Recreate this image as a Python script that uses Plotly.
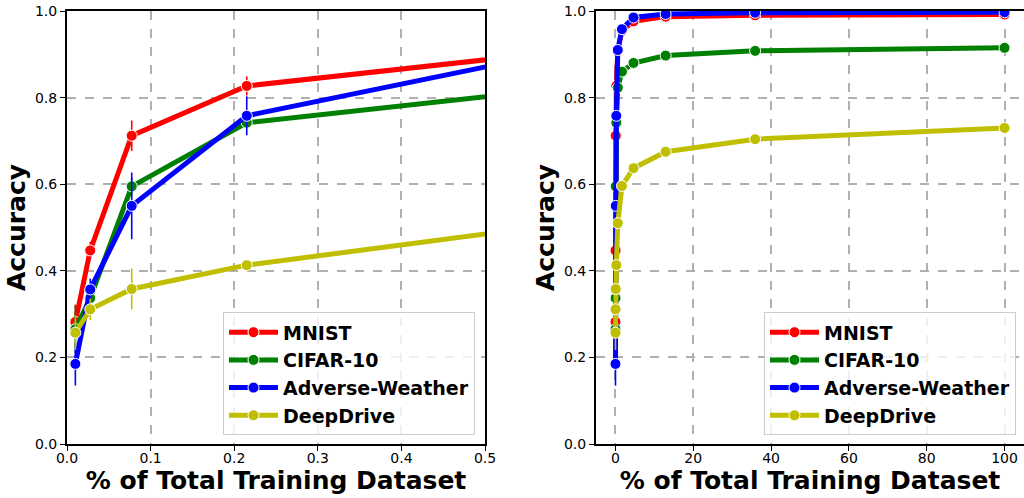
import plotly.graph_objects as go

# ---- data ----
x_pct = [0.01, 0.0278, 0.0774, 0.215, 0.599, 1.67, 4.64, 12.9, 35.9, 100]

mnist = [0.282, 0.447, 0.712, 0.827, 0.908, 0.955, 0.976, 0.987, 0.990, 0.992]
mnist_err = [0.04, 0.02, 0.035, 0.022, 0.008, 0.004, 0.003, 0.002, 0.002, 0.001]

cifar = [0.265, 0.337, 0.595, 0.742, 0.823, 0.860, 0.880, 0.897, 0.908, 0.915]
cifar_err = [0.055, 0.02, 0.02, 0.012, 0.008, 0.005, 0.003, 0.002, 0.002, 0.001]

adverse = [0.185, 0.357, 0.550, 0.758, 0.910, 0.958, 0.985, 0.993, 0.996, 0.997]
adverse_err = [0.05, 0.025, 0.077, 0.045, 0.01, 0.005, 0.003, 0.002, 0.001, 0.001]

deepdrive = [0.257, 0.311, 0.358, 0.413, 0.510, 0.596, 0.637, 0.675, 0.704, 0.730]
deepdrive_err = [0.04, 0.025, 0.047, 0.012, 0.008, 0.005, 0.004, 0.003, 0.002, 0.002]

series_names = ["MNIST", "CIFAR-10", "Adverse-Weather", "DeepDrive"]
series_vals = [mnist, cifar, adverse, deepdrive]
series_errs = [mnist_err, cifar_err, adverse_err, deepdrive_err]
series_colors = ["#ff0000", "#008000", "#0000ff", "#bfbf00"]

left_xticks = [0.0, 0.1, 0.2, 0.3, 0.4, 0.5]
right_xticks = [0, 20, 40, 60, 80, 100]
yticks = [0.0, 0.2, 0.4, 0.6, 0.8, 1.0]

x_title = "% of Total Training Dataset"
y_title = "Accuracy"

FONT = "DejaVu Sans"

fig = go.Figure()

for panel, (xa, ya, leg) in enumerate([("x", "y", "legend"), ("x2", "y2", "legend2")]):
    for name, vals, errs, col in zip(series_names, series_vals, series_errs, series_colors):
        fig.add_trace(go.Scatter(
            x=x_pct, y=vals, name=name, mode="lines+markers",
            xaxis=xa, yaxis=ya, legend=leg,
            line=dict(color=col, width=5),
            marker=dict(color=col, size=11, line=dict(color="white", width=1)),
            error_y=dict(type="data", array=errs, visible=True, color=col,
                         thickness=1.6, width=0),
            cliponaxis=True,
        ))

axis_common = dict(
    showline=True, linecolor="black", linewidth=2,
    ticks="outside", ticklen=5, tickwidth=1.2, tickcolor="black",
    showgrid=True, gridcolor="#b0b0b0", griddash="dash", gridwidth=1.6,
    zeroline=False,
    tickfont=dict(family=FONT, size=14, color="black"),
    title_font=dict(family=FONT, size=25, color="black"),
)

L = 67
plot_w = 1024 - L
d1 = [0, (485 - L) / plot_w]
d2 = [(596 - L) / plot_w, 1.0]

legend_common = dict(
    y=0.02, xanchor="right", yanchor="bottom",
    bgcolor="rgba(255,255,255,0.8)", bordercolor="#cccccc", borderwidth=1,
    font=dict(family=FONT, size=19, color="black", weight="bold"),
    itemwidth=49, tracegroupgap=0,
)

fig.update_layout(
    width=1024, height=498,
    margin=dict(l=L, r=0, t=11, b=54),
    paper_bgcolor="white", plot_bgcolor="white",
    font=dict(family=FONT, color="black"),
    xaxis=dict(domain=d1, range=[0, 0.5], tickvals=left_xticks, tickformat=".1f",
               mirror=True, ticklabelstandoff=-5,
               title=dict(text=f"<b>{x_title}</b>", standoff=0),
               automargin=False, **axis_common),
    yaxis=dict(domain=[0, 1], range=[0, 1.0], tickvals=yticks, tickformat=".1f",
               mirror=True, title=dict(text=f"<b>{y_title}</b>", standoff=2),
               automargin=False, **axis_common),
    xaxis2=dict(domain=d2, range=[-5, 105], tickvals=right_xticks,
                mirror=True, anchor="y2", ticklabelstandoff=-5,
                title=dict(text=f"<b>{x_title}</b>", standoff=0),
                automargin=False, **axis_common),
    yaxis2=dict(domain=[0, 1], range=[0, 1.0], tickvals=yticks, tickformat=".1f",
                mirror=False, anchor="x2", title=dict(text=f"<b>{y_title}</b>", standoff=2),
                automargin=False, **axis_common),
    legend=dict(x=(475 - L) / plot_w, **legend_common),
    legend2=dict(x=(1016 - L) / plot_w, **legend_common),
)

fig.write_html("out.html", config={"displayModeBar": False},
               post_script="document.body.style.margin='0';")
